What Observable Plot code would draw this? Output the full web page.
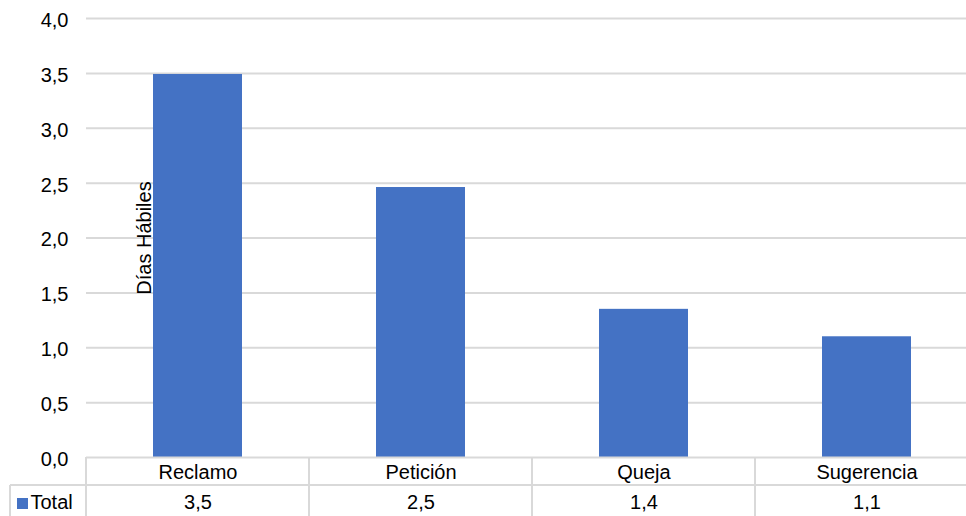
<!DOCTYPE html>
<html><head><meta charset="utf-8">
<script src="https://cdn.jsdelivr.net/npm/d3@7"></script>
<script src="https://cdn.jsdelivr.net/npm/@observablehq/plot@0.6"></script>
<style>body{margin:0;background:#fff;overflow:hidden}</style>
</head><body><div id="chart"></div>
<script>
const categories = ["Reclamo", "Petición", "Queja", "Sugerencia"];
const values = [3.49, 2.46, 1.35, 1.1];
const tableLabels = ["3,5", "2,5", "1,4", "1,1"];
const yTicks = [0, 0.5, 1, 1.5, 2, 2.5, 3, 3.5, 4];
const seriesName = "Total";
const yLabel = "Días Hábiles";

const data = categories.map((c, i) => ({category: c, value: values[i], label: tableLabels[i]}));
const fmt = d => d.toFixed(1).replace(".", ",");
const font = "'Liberation Sans', Arial, sans-serif";
const grey = "#d9d9d9";
const blue = "#4472C4";

const chart = Plot.plot({
  width: 966, height: 516,
  marginTop: 18, marginBottom: 59, marginLeft: 86, marginRight: 0,
  style: {fontFamily: font, fontSize: "20px", color: "#000", background: "#fff", overflow: "visible"},
  x: {domain: categories, range: [86, 978], paddingInner: 0.6, paddingOuter: 0.3, axis: null},
  y: {domain: [0, 4], label: null},
  marks: [
    Plot.gridY(yTicks.filter(t => t > 0), {stroke: grey, strokeOpacity: 1, strokeWidth: 2}),
    Plot.barY(data, {x: "category", y: "value", fill: blue}),
    Plot.ruleY([0], {stroke: grey, strokeWidth: 2}),
    Plot.axisY(yTicks, {tickSize: 0, tickPadding: 18, tickFormat: fmt, fontSize: 20, label: null, dy: 2}),
    Plot.text(data, {x: "category", text: "category", frameAnchor: "bottom", dy: 21, fontSize: 20}),
    Plot.text(data, {x: "category", text: "label", frameAnchor: "bottom", dy: 51, fontSize: 20}),
    Plot.text([seriesName], {text: d => d, frameAnchor: "bottom-left", dx: -56, dy: 51, textAnchor: "start", fontSize: 20}),
    Plot.text([yLabel], {text: d => d, frameAnchor: "left", textAnchor: "middle", dx: 58, rotate: -90, fontSize: 20})
  ]
});

// data-table grid lines and legend key, positioned from the plot's own scales
const sx = chart.scale("x");
const sy = chart.scale("y");
const y0 = sy.apply(0);
const rowH = 28;
const svg = d3.select(chart);
const g = svg.append("g").attr("stroke", grey).attr("stroke-width", 2);
g.append("line").attr("x1", 10).attr("x2", 966).attr("y1", y0 + rowH).attr("y2", y0 + rowH);
g.append("line").attr("x1", 10).attr("x2", 10).attr("y1", y0 + rowH).attr("y2", 516);
const outer = (sx.step - sx.bandwidth) / 2;
categories.concat([null]).forEach((c, i) => {
  const bx = c === null ? sx.apply(categories[categories.length - 1]) + sx.bandwidth + outer : sx.apply(c) - outer;
  g.append("line").attr("x1", bx).attr("x2", bx).attr("y1", y0).attr("y2", 516);
});
svg.append("rect").attr("x", 17).attr("y", y0 + 41).attr("width", 11).attr("height", 11).attr("fill", blue);

document.getElementById("chart").appendChild(chart);
</script>
</body></html>
